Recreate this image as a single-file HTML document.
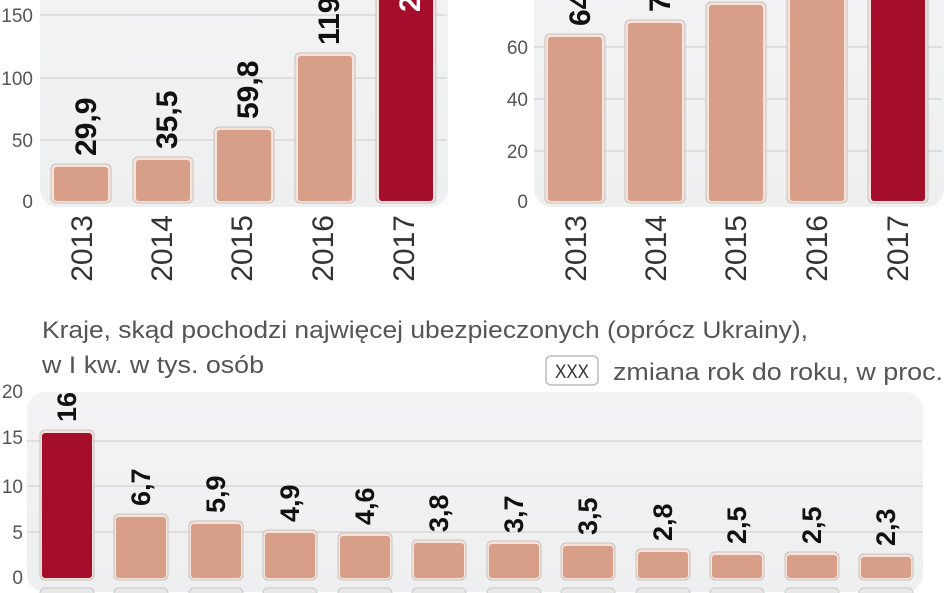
<!DOCTYPE html>
<html><head><meta charset="utf-8"><style>
html,body{margin:0;padding:0;background:#fff;}
svg{display:block;}
text{font-family:"Liberation Sans",sans-serif;}
</style></head><body>
<svg width="948" height="593" viewBox="0 0 948 593" xmlns="http://www.w3.org/2000/svg">
<defs>
<linearGradient id="bg" x1="0" y1="0" x2="0" y2="1"><stop offset="0" stop-color="#f3f3f4"/><stop offset="1" stop-color="#eeeff0"/></linearGradient>
</defs>
<!-- Left chart -->
<rect x="40" y="-20" width="408" height="227" rx="18" fill="url(#bg)"/>
<g stroke="#d8d8da" stroke-width="1.5">
<line x1="40" y1="15" x2="447" y2="15"/><line x1="40" y1="78" x2="447" y2="78"/><line x1="40" y1="140" x2="447" y2="140"/>
</g>
<g font-size="19" fill="#555" text-anchor="end">
<text x="33" y="22">150</text><text x="33" y="85">100</text><text x="33" y="147">50</text><text x="33" y="208">0</text>
</g>
<g stroke="#c8c0bc" stroke-width="1">
<rect x="51" y="164" width="60" height="39" rx="5" fill="#f7e3db"/>
<rect x="133" y="157" width="60" height="46" rx="5" fill="#f7e3db"/>
<rect x="214" y="127" width="60" height="76" rx="5" fill="#f7e3db"/>
<rect x="295" y="53" width="60" height="150" rx="5" fill="#f7e3db"/>
<rect x="376" y="-10" width="60" height="213" rx="5" fill="#f7e3db"/>
</g>
<g>
<rect x="54" y="167" width="54" height="34" rx="3" fill="#d89f88"/>
<rect x="136" y="160" width="54" height="41" rx="3" fill="#d89f88"/>
<rect x="217" y="130" width="54" height="71" rx="3" fill="#d89f88"/>
<rect x="298" y="56" width="54" height="145" rx="3" fill="#d89f88"/>
<rect x="379" y="-10" width="54" height="211" rx="3" fill="#a50e2a"/>
</g>
<g font-size="30" font-weight="bold" fill="#111">
<text transform="translate(96,156) rotate(-90)">29,9</text>
<text transform="translate(177,149) rotate(-90)">35,5</text>
<text transform="translate(258,119) rotate(-90)">59,8</text>
<text transform="translate(339,45) rotate(-90)">119,7</text>
<text transform="translate(420,12) rotate(-90)" fill="#fff">231</text>
</g>
<g font-size="30" fill="#333" text-anchor="end">
<text transform="translate(92,215) rotate(-90)">2013</text>
<text transform="translate(172,215) rotate(-90)">2014</text>
<text transform="translate(252,215) rotate(-90)">2015</text>
<text transform="translate(333,215) rotate(-90)">2016</text>
<text transform="translate(414,215) rotate(-90)">2017</text>
</g>
<!-- Right chart -->
<rect x="534" y="-20" width="410" height="227" rx="18" fill="url(#bg)"/>
<g stroke="#d8d8da" stroke-width="1.5">
<line x1="534" y1="47" x2="942" y2="47"/><line x1="534" y1="99" x2="942" y2="99"/><line x1="534" y1="151" x2="942" y2="151"/>
</g>
<g font-size="19" fill="#555" text-anchor="end">
<text x="528" y="-4">80</text><text x="528" y="54">60</text><text x="528" y="106">40</text><text x="528" y="158">20</text><text x="528" y="208">0</text>
</g>
<g stroke="#c8c0bc" stroke-width="1">
<rect x="545" y="34" width="60" height="169" rx="5" fill="#f7e3db"/>
<rect x="625" y="20" width="60" height="183" rx="5" fill="#f7e3db"/>
<rect x="706" y="2" width="60" height="201" rx="5" fill="#f7e3db"/>
<rect x="787" y="-10" width="60" height="213" rx="5" fill="#f7e3db"/>
<rect x="868" y="-10" width="60" height="213" rx="5" fill="#f7e3db"/>
</g>
<g>
<rect x="548" y="37" width="54" height="164" rx="3" fill="#d89f88"/>
<rect x="628" y="23" width="54" height="178" rx="3" fill="#d89f88"/>
<rect x="709" y="5" width="54" height="196" rx="3" fill="#d89f88"/>
<rect x="790" y="-10" width="54" height="211" rx="3" fill="#d89f88"/>
<rect x="871" y="-10" width="54" height="211" rx="3" fill="#a50e2a"/>
</g>
<g font-size="30" font-weight="bold" fill="#111">
<text transform="translate(590,26) rotate(-90)">64,2</text>
<text transform="translate(670,12) rotate(-90)">70,1</text>
</g>
<g font-size="30" fill="#333" text-anchor="end">
<text transform="translate(586,215) rotate(-90)">2013</text>
<text transform="translate(666,215) rotate(-90)">2014</text>
<text transform="translate(746,215) rotate(-90)">2015</text>
<text transform="translate(827,215) rotate(-90)">2016</text>
<text transform="translate(908,215) rotate(-90)">2017</text>
</g>
<!-- Title -->
<text x="42" y="338" font-size="24" fill="#555" textLength="766" lengthAdjust="spacingAndGlyphs">Kraje, skąd pochodzi najwięcej ubezpieczonych (oprócz Ukrainy),</text>
<text x="42" y="373" font-size="24" fill="#555" textLength="222" lengthAdjust="spacingAndGlyphs">w I kw. w tys. osób</text>
<rect x="546" y="356" width="52" height="29" rx="5" fill="#fff" stroke="#bbb" stroke-width="1.5"/>
<text x="572" y="378" font-size="19" fill="#333" text-anchor="middle" textLength="34" lengthAdjust="spacingAndGlyphs">XXX</text>
<text x="613" y="380" font-size="24" fill="#555" textLength="330" lengthAdjust="spacingAndGlyphs">zmiana rok do roku, w proc.</text>
<!-- Bottom chart -->
<rect x="27" y="392" width="896" height="200" rx="18" fill="url(#bg)"/>
<g stroke="#d8d8da" stroke-width="1.5">
<line x1="27" y1="441" x2="922" y2="441"/><line x1="27" y1="486" x2="922" y2="486"/><line x1="27" y1="532" x2="922" y2="532"/>
</g>
<g font-size="19" fill="#555" text-anchor="end">
<text x="23" y="398">20</text><text x="23" y="444">15</text><text x="23" y="493">10</text><text x="23" y="539">5</text><text x="23" y="584">0</text>
</g>
<g id="bars"></g>
<g stroke="#c8c0bc" stroke-width="1">
<rect x="40" y="430" width="54" height="150" rx="5" fill="#f7e3db"/>
<rect x="114" y="514" width="54" height="66" rx="5" fill="#f7e3db"/>
<rect x="189" y="521" width="54" height="59" rx="5" fill="#f7e3db"/>
<rect x="263" y="530" width="54" height="50" rx="5" fill="#f7e3db"/>
<rect x="338" y="533" width="54" height="47" rx="5" fill="#f7e3db"/>
<rect x="412" y="540" width="54" height="40" rx="5" fill="#f7e3db"/>
<rect x="487" y="541" width="54" height="39" rx="5" fill="#f7e3db"/>
<rect x="561" y="543" width="54" height="37" rx="5" fill="#f7e3db"/>
<rect x="636" y="549" width="54" height="31" rx="5" fill="#f7e3db"/>
<rect x="710" y="552" width="54" height="28" rx="5" fill="#f7e3db"/>
<rect x="785" y="552" width="54" height="28" rx="5" fill="#f7e3db"/>
<rect x="859" y="554" width="54" height="26" rx="5" fill="#f7e3db"/>
</g>
<g>
<rect x="42" y="433" width="50" height="145" rx="3" fill="#a50e2a"/>
<rect x="116" y="517" width="50" height="61" rx="3" fill="#d89f88"/>
<rect x="191" y="524" width="50" height="54" rx="3" fill="#d89f88"/>
<rect x="265" y="533" width="50" height="45" rx="3" fill="#d89f88"/>
<rect x="340" y="536" width="50" height="42" rx="3" fill="#d89f88"/>
<rect x="414" y="543" width="50" height="35" rx="3" fill="#d89f88"/>
<rect x="489" y="544" width="50" height="34" rx="3" fill="#d89f88"/>
<rect x="563" y="546" width="50" height="32" rx="3" fill="#d89f88"/>
<rect x="638" y="552" width="50" height="26" rx="3" fill="#d89f88"/>
<rect x="712" y="555" width="50" height="23" rx="3" fill="#d89f88"/>
<rect x="787" y="555" width="50" height="23" rx="3" fill="#d89f88"/>
<rect x="861" y="557" width="50" height="21" rx="3" fill="#d89f88"/>
</g>
<g font-size="27" font-weight="bold" fill="#111">
<text transform="translate(76,422) rotate(-90)">16</text>
<text transform="translate(150,506) rotate(-90)">6,7</text>
<text transform="translate(225,513) rotate(-90)">5,9</text>
<text transform="translate(299,522) rotate(-90)">4,9</text>
<text transform="translate(374,525) rotate(-90)">4,6</text>
<text transform="translate(448,532) rotate(-90)">3,8</text>
<text transform="translate(523,533) rotate(-90)">3,7</text>
<text transform="translate(597,535) rotate(-90)">3,5</text>
<text transform="translate(672,541) rotate(-90)">2,8</text>
<text transform="translate(746,544) rotate(-90)">2,5</text>
<text transform="translate(821,544) rotate(-90)">2,5</text>
<text transform="translate(895,546) rotate(-90)">2,3</text>
</g>
<g fill="#e8e8e8" stroke="#c8c8c8" stroke-width="1">
<rect x="40" y="588" width="54" height="20" rx="5"/><rect x="114" y="588" width="54" height="20" rx="5"/>
<rect x="189" y="588" width="54" height="20" rx="5"/><rect x="263" y="588" width="54" height="20" rx="5"/>
<rect x="338" y="588" width="54" height="20" rx="5"/><rect x="412" y="588" width="54" height="20" rx="5"/>
<rect x="487" y="588" width="54" height="20" rx="5"/><rect x="561" y="588" width="54" height="20" rx="5"/>
<rect x="636" y="588" width="54" height="20" rx="5"/><rect x="710" y="588" width="54" height="20" rx="5"/>
<rect x="785" y="588" width="54" height="20" rx="5"/><rect x="859" y="588" width="54" height="20" rx="5"/>
</g>
</svg>
</body></html>
